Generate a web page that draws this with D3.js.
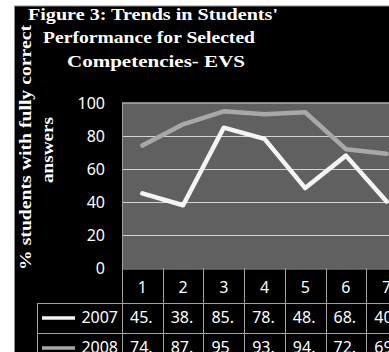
<!DOCTYPE html>
<html>
<head>
<meta charset="utf-8">
<script src="https://cdn.jsdelivr.net/npm/d3@7"></script>
<style>
  body { margin: 0; background: #fff; }
  svg { display: block; }
</style>
</head>
<body>
<div id="chart"></div>
<script>
// Chart data
var categories = ["1", "2", "3", "4", "5", "6", "7"];
var seriesNames = ["2007", "2008"];
var values2007 = [45.4, 38.2, 85.1, 78.3, 48.6, 68.2, 40.5];
var values2008 = [74.3, 87.1, 95, 93.2, 94.4, 72.1, 69.3];
var yTicks = [0, 20, 40, 60, 80, 100];
var titleLines = ["Figure 3: Trends in Students'", "Performance for Selected", "Competencies- EVS"];
var yTitleLines = ["% students with fully correct", "answers"];

var svgWidth = 389;
var svgHeight = 352;

var plot = { left: 122, right: 407, top: 103, bottom: 268.5 };

var svg = d3.select("#chart")
    .append("svg")
    .attr("width", svgWidth)
    .attr("height", svgHeight);

// Black panel with thin border
svg.append("rect")
    .attr("x", 14.5)
    .attr("y", 6)
    .attr("width", svgWidth)
    .attr("height", svgHeight)
    .attr("fill", "#000")
    .attr("stroke", "#8a8a8a")
    .attr("stroke-width", 1);

// Scales
var xScale = d3.scaleBand()
    .domain(categories)
    .range([plot.left, plot.right])
    .padding(0);

var yScale = d3.scaleLinear()
    .domain([0, 100])
    .range([plot.bottom, plot.top]);

var bw = xScale.bandwidth();

// Plot background
svg.append("rect")
    .attr("x", plot.left)
    .attr("y", plot.top)
    .attr("width", plot.right - plot.left)
    .attr("height", plot.bottom - plot.top)
    .attr("fill", "#606060");

// Gridlines
svg.append("g")
    .selectAll("line")
    .data(yTicks.filter(d => d > 0 && d < 100))
    .enter()
    .append("line")
    .attr("x1", plot.left)
    .attr("x2", plot.right)
    .attr("y1", d => Math.round(yScale(d)) + 0.5)
    .attr("y2", d => Math.round(yScale(d)) + 0.5)
    .attr("stroke", "#d4d4d4")
    .attr("stroke-width", 1);

// Plot border top and left
svg.append("line")
    .attr("x1", plot.left).attr("x2", plot.right)
    .attr("y1", plot.top).attr("y2", plot.top)
    .attr("stroke", "#b0b0b0").attr("stroke-width", 1.5);
svg.append("line")
    .attr("x1", plot.left + 0.5).attr("x2", plot.left + 0.5)
    .attr("y1", plot.top).attr("y2", svgHeight)
    .attr("stroke", "#a0a0a0").attr("stroke-width", 1);

// Y axis
var leftAxis = d3.axisLeft(yScale)
    .tickValues(yTicks)
    .tickSize(0)
    .tickPadding(17);

var yAxis = svg.append("g")
    .attr("transform", `translate(${plot.left}, 0)`)
    .call(leftAxis);
yAxis.select(".domain").remove();
yAxis.selectAll("text")
    .attr("fill", "#fff")
    .attr("font-family", "'Noto Sans', sans-serif")
    .attr("font-size", 16);

// Lines
var lineGen = d3.line()
    .x((d, i) => xScale(categories[i]) + bw / 2)
    .y(d => yScale(d));

var series = [
    { name: seriesNames[0], values: values2007, color: "#f4f4f4" },
    { name: seriesNames[1], values: values2008, color: "#a8a8a8" }
];

svg.append("g")
    .selectAll("path")
    .data(series.slice().reverse())
    .enter()
    .append("path")
    .attr("d", d => lineGen(d.values))
    .attr("fill", "none")
    .attr("stroke", d => d.color)
    .attr("stroke-width", 4.5)
    .attr("stroke-linejoin", "round")
    .attr("stroke-linecap", "round");

// Data table
var tableColor = "#a0a0a0";
var headerBottom = 303;
var rowHeight = 30;
var legendLeft = 37;

var table = svg.append("g");

// horizontal lines
table.append("line")
    .attr("x1", plot.left).attr("x2", plot.right)
    .attr("y1", plot.bottom + 0.5).attr("y2", plot.bottom + 0.5)
    .attr("stroke", tableColor);
[0, 1].forEach(function(i) {
    table.append("line")
        .attr("x1", legendLeft).attr("x2", plot.right)
        .attr("y1", headerBottom + i * rowHeight + 0.5)
        .attr("y2", headerBottom + i * rowHeight + 0.5)
        .attr("stroke", tableColor);
});
// vertical lines
table.selectAll(".vline")
    .data(categories)
    .enter()
    .append("line")
    .attr("x1", d => Math.round(xScale(d) + bw) + 0.5)
    .attr("x2", d => Math.round(xScale(d) + bw) + 0.5)
    .attr("y1", plot.bottom)
    .attr("y2", svgHeight)
    .attr("stroke", tableColor);
table.append("line")
    .attr("x1", legendLeft + 0.5).attr("x2", legendLeft + 0.5)
    .attr("y1", headerBottom).attr("y2", svgHeight)
    .attr("stroke", tableColor);

var cellFont = "'Noto Sans', sans-serif";

// header categories
table.selectAll(".cat")
    .data(categories)
    .enter()
    .append("text")
    .attr("x", d => xScale(d) + bw / 2)
    .attr("y", 293)
    .attr("text-anchor", "middle")
    .attr("fill", "#fff")
    .attr("font-family", cellFont)
    .attr("font-size", 16)
    .text(d => d);

// series rows
series.forEach(function(s, r) {
    var rowTop = headerBottom + r * rowHeight;
    var mid = rowTop + 15;
    table.append("line")
        .attr("x1", 42).attr("x2", 75)
        .attr("y1", mid).attr("y2", mid)
        .attr("stroke", s.color)
        .attr("stroke-width", 3.5);
    table.append("text")
        .attr("x", 118)
        .attr("y", rowTop + 20)
        .attr("text-anchor", "end")
        .attr("fill", "#fff")
        .attr("font-family", cellFont)
        .attr("font-size", 16)
        .text(s.name);
    table.append("g")
        .selectAll("text")
        .data(s.values)
        .enter()
        .append("text")
        .attr("x", (d, i) => xScale(categories[i]) + 8)
        .attr("y", rowTop + 20)
        .attr("fill", "#fff")
        .attr("font-family", cellFont)
        .attr("font-size", 16)
        .text(d => String(d))
        .each(function() {
            // trim text that does not fit in the cell
            var el = d3.select(this);
            var t = el.text();
            while (t.length > 1 && this.getComputedTextLength() > bw - 15) {
                t = t.slice(0, -1);
                el.text(t);
            }
        });
});

// Title
var titleFont = "'Liberation Serif', 'Times New Roman', serif";
var titleWidths = [250, 212, 178];
var titleY = [19.5, 43, 66.5];
svg.append("g")
    .selectAll("text")
    .data(titleLines)
    .enter()
    .append("text")
    .attr("x", (d, i) => [153, 149, 156][i])
    .attr("y", (d, i) => titleY[i])
    .attr("text-anchor", "middle")
    .attr("fill", "#fff")
    .attr("font-family", titleFont)
    .attr("font-weight", "bold")
    .attr("font-size", 17.5)
    .attr("textLength", (d, i) => titleWidths[i])
    .attr("lengthAdjust", "spacingAndGlyphs")
    .text(d => d);

// Y axis title
var yTitle = svg.append("g")
    .attr("transform", "rotate(-90)");
yTitle.selectAll("text")
    .data(yTitleLines)
    .enter()
    .append("text")
    .attr("x", (d, i) => -[147.5, 150][i])
    .attr("y", (d, i) => [31, 53][i])
    .attr("text-anchor", "middle")
    .attr("fill", "#fff")
    .attr("font-family", titleFont)
    .attr("font-weight", "bold")
    .attr("font-size", 17)
    .attr("textLength", (d, i) => [245, 66][i])
    .attr("lengthAdjust", "spacingAndGlyphs")
    .text(d => d);
</script>
</body>
</html>
